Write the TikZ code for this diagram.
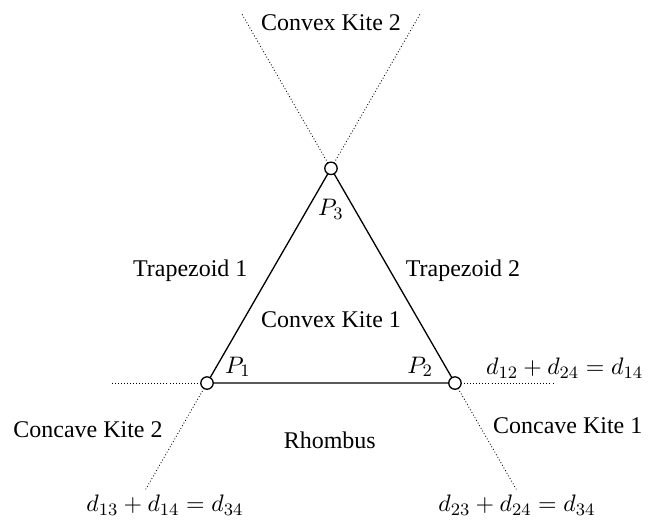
\documentclass[tikz,border=0pt]{standalone}
\usepackage{fontspec}
\setmainfont{Liberation Serif}
\usetikzlibrary{positioning, calc}

\begin{document}
\begin{tikzpicture}[
    every node/.style={font=\rmfamily\fontsize{11}{13}\selectfont},
    vertex/.style={circle, draw, fill=white, line width=0.6pt, minimum size=2mm, inner sep=0pt},
    guide/.style={densely dotted, thin}]
    \useasboundingbox (-3.34,-2.21) rectangle (7.26,6.18);
    % triangle corners
    \coordinate (c1) at (0,0);
    \coordinate (c2) at (4,0);
    \coordinate (c3) at (2,3.464);
    % free ends of the dotted guides
    \coordinate (e12) at ($(c1)!-1.55cm!(c2)$);
    \coordinate (e21) at ($(c2)!-1.6cm!(c1)$);
    \coordinate (e13) at ($(c1)!-1.98cm!(c3)$);
    \coordinate (e23) at ($(c2)!-1.98cm!(c3)$);
    \coordinate (e31) at ($(c3)!-2.9cm!(c1)$);
    \coordinate (e32) at ($(c3)!-2.9cm!(c2)$);
    \draw[guide] (c1) -- (e12);
    \draw[guide] (c2) -- (e21);
    \draw[guide] (c1) -- (e13);
    \draw[guide] (c2) -- (e23);
    \draw[guide] (c3) -- (e31);
    \draw[guide] (c3) -- (e32);
    \draw[line width=0.6pt] (c1) -- (c2) -- (c3) -- cycle;
    \node[vertex] (p1) at (c1) {};
    \node[vertex] (p2) at (c2) {};
    \node[vertex] (p3) at (c3) {};
    % vertex labels
    \node (l1) at (0.5,0.26) {$P_1$};
    \node (l2) at (3.44,0.26) {$P_2$};
    \node (l3) at (2,2.8) {$P_3$};
    % regions
    \node (ck2) at (2,5.82) {Convex Kite 2};
    \node (tz1) at (-0.27,1.82) {Trapezoid 1};
    \node (tz2) at (4.13,1.82) {Trapezoid 2};
    \node (ck1) at (2,1.02) {Convex Kite 1};
    \node (cc2) at (-1.92,-0.76) {Concave Kite 2};
    \node (rh) at (1.98,-0.92) {Rhombus};
    \node (cc1) at (5.82,-0.68) {Concave Kite 1};
    % boundary equations
    \node (eq1) at (5.77,0.24) {$d_{12}+d_{24}=d_{14}$};
    \node (eq2) at (-0.68,-1.97) {$d_{13}+d_{14}=d_{34}$};
    \node (eq3) at (5.0,-1.97) {$d_{23}+d_{24}=d_{34}$};
\end{tikzpicture}
\end{document}
